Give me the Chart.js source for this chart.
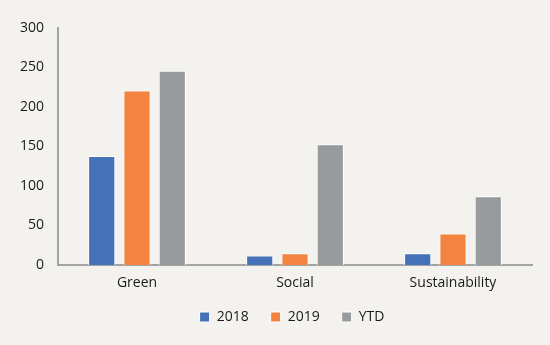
<!DOCTYPE html>
<html>
<head>
<meta charset="utf-8">
<script src="https://cdn.jsdelivr.net/npm/chart.js@4"></script>
<style>
  html, body { margin: 0; padding: 0; background: #f4f2ee; }
  #wrap { width: 550px; height: 345px; }
</style>
</head>
<body>
<div id="wrap"><canvas id="chart"></canvas></div>
<script>
// Chart data
const categories = ['Green', 'Social', 'Sustainability'];
const seriesNames = ['2018', '2019', 'YTD'];
const values2018 = [138, 12, 15];
const values2019 = [221, 15, 40];
const valuesYTD = [246, 153, 87];
const yTicks = [0, 50, 100, 150, 200, 250, 300];

const colors = ['#4472b8', '#f28440', '#989b9d'];
const seriesValues = [values2018, values2019, valuesYTD];

// nudge the legend: a bit closer to the axis labels, centred under the plot
const legendNudge = {
    id: 'legendNudge',
    afterLayout(chart) {
        const lg = chart.legend;
        if (lg) {
            lg.top -= 4;
            lg.bottom -= 4;
            lg.left += 26;
            lg.right += 26;
        }
    }
};

const ctx = document.getElementById('chart').getContext('2d');
new Chart(ctx, {
    type: 'bar',
    data: {
        labels: categories,
        datasets: seriesNames.map((name, i) => ({
            label: name,
            data: seriesValues[i],
            backgroundColor: colors[i],
            borderColor: '#ffffff',
            borderWidth: 1,
            categoryPercentage: 0.67,
            barPercentage: 0.77
        }))
    },
    plugins: [legendNudge],
    options: {
        responsive: true,
        maintainAspectRatio: false,
        animation: false,
        layout: { padding: { top: 28, right: 18, left: 0, bottom: 7 } },
        plugins: {
            legend: {
                position: 'bottom',
                labels: {
                    boxWidth: 10,
                    boxHeight: 10,
                    padding: 22,
                    color: '#1a1a1a',
                    font: { family: 'Open Sans', size: 14 }
                }
            },
            tooltip: { enabled: false }
        },
        scales: {
            x: {
                afterFit: (axis) => { axis.height = 27; },
                grid: { display: false, drawTicks: false },
                border: { color: '#a3a3a3', width: 2 },
                ticks: {
                    color: '#1a1a1a',
                    padding: 10,
                    font: { family: 'Open Sans', size: 14 }
                }
            },
            y: {
                min: 0,
                max: 300,
                afterBuildTicks: (axis) => {
                    axis.ticks = yTicks.map(v => ({ value: v }));
                },
                afterFit: (axis) => { axis.width = 58; },
                grid: { display: false, drawTicks: false },
                border: { color: '#a3a3a3', width: 2 },
                ticks: {
                    color: '#1a1a1a',
                    padding: 14,
                    font: { family: 'Open Sans', size: 14 }
                }
            }
        }
    }
});
</script>
</body>
</html>
